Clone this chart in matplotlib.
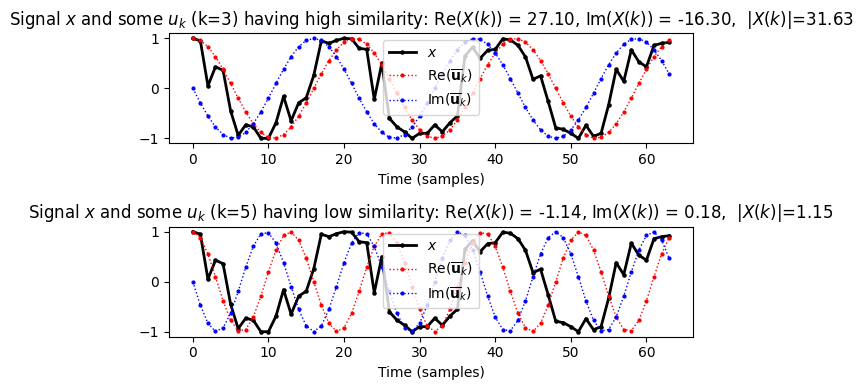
import numpy as np
import matplotlib
matplotlib.use("Agg")
import matplotlib.pyplot as plt

# signal x, 64 samples
x = [1.0, 0.95, 0.05, 0.43, 0.36, -0.45, -0.94, -0.73, -0.77, -1.0,
     -1.0, -0.69, -0.16, -0.65, -0.29, -0.19, 0.26, 0.95, 0.9, 0.96,
     1.0, 0.99, 0.8, 0.78, -0.22, 0.5, -0.6, -0.77, -0.87, -1.0,
     -0.9, -0.9, -0.73, -0.87, -0.69, -0.55, 0.65, 0.82, 0.6, 0.76,
     0.78, 0.99, 0.97, 0.86, 0.63, 0.18, 0.25, -0.26, -0.79, -0.82,
     -0.9, -1.0, -0.74, -0.96, -0.9, -0.33, 0.38, 0.14, 0.77, 0.53,
     0.43, 0.86, 0.9, 0.92]
N = len(x)
n = np.arange(N)

ks = [3, 5]
titles = [
    r"Signal $x$ and some $u_k$ (k=3) having high similarity: Re($X(k)$) = 27.10, Im($X(k)$) = -16.30,  $|X(k)|$=31.63",
    r"Signal $x$ and some $u_k$ (k=5) having low similarity: Re($X(k)$) = -1.14, Im($X(k)$) = 0.18,  $|X(k)|$=1.15",
]

fig, axes = plt.subplots(2, 1, figsize=(8.64, 3.89), dpi=100)
fig.subplots_adjust(left=0.1956, right=0.802, top=0.9143, bottom=0.1345, hspace=0.758)

for ax, k, title in zip(axes, ks, titles):
    # conjugated DFT basis vector for frequency k
    u = np.exp(-2j * np.pi * k * n / N)
    ax.plot(n, x, 'k.-', lw=2, ms=4.5, label=r'$x$')
    ax.plot(n, u.real, 'r.:', lw=1, ms=4, label=r'Re($\overline{\mathbf{u}}_k$)')
    ax.plot(n, u.imag, 'b.:', lw=1, ms=4, label=r'Im($\overline{\mathbf{u}}_k$)')
    ax.set_title(title)
    ax.set_xlabel('Time (samples)')
    ax.legend(loc='upper center')

plt.savefig('out.png')
